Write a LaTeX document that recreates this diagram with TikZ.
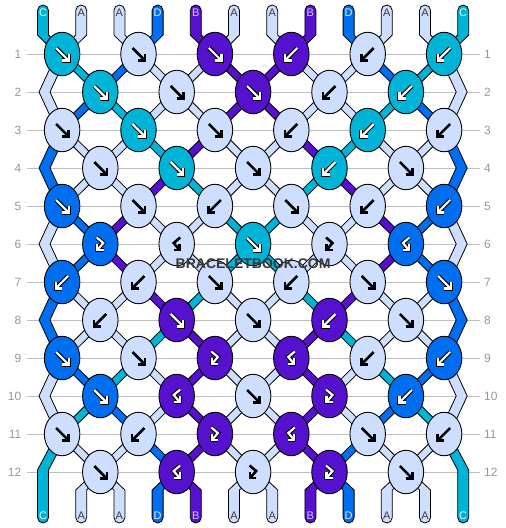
\documentclass[tikz,border=0pt]{standalone}
\usepackage{fontspec}
\setmainfont{Liberation Sans}
\usetikzlibrary{shapes.geometric,calc}
\pgfdeclarelayer{grid}
\pgfdeclarelayer{bands}
\pgfsetlayers{grid,bands,main}
\definecolor{cA}{RGB}{206,222,255}
\definecolor{cB}{RGB}{85,17,205}
\definecolor{cC}{RGB}{0,180,216}
\definecolor{cD}{RGB}{0,110,240}
\definecolor{lA}{RGB}{60,60,60}
\definecolor{lB}{RGB}{215,200,255}
\definecolor{lC}{RGB}{225,248,255}
\definecolor{lD}{RGB}{225,235,255}
\definecolor{gridgray}{RGB}{190,190,190}
\definecolor{numgray}{RGB}{150,150,150}
\definecolor{wmgray}{RGB}{55,55,55}
\def\darkA{0}\def\darkB{1}\def\darkC{1}\def\darkD{1}
\tikzset{
 bandst/.style={draw=black, line width=0.8pt, line join=miter},
 knotst/.style={ellipse, draw=black, line width=0.9pt, minimum width=35.5pt, minimum height=43.5pt, inner sep=0pt},
 gblack/.style={draw=black, line width=2.6pt, line join=miter, line cap=square},
 gout/.style={draw=black, line width=4.2pt, line join=miter, line cap=square},
 gin/.style={draw=white, line width=2.2pt, line join=miter, line cap=square},
 rowlab/.style={text=numgray, font=\fontsize{12}{12}\selectfont, inner sep=0pt},
 taillab/.style={font=\fontsize{11}{11}\selectfont, inner sep=0pt},
 rowline/.style={draw=gridgray, line width=1pt},
 wm/.style={font=\bfseries\fontsize{14}{14}\selectfont, inner sep=0pt},
}
\newcommand\gF[1]{\draw[#1] (-6,-6) -- (5.6,5.6); \draw[#1] (-0.2,6.5) -- (6.5,6.5) -- (6.5,-0.2);}
\newcommand\gB[1]{\draw[#1] (6,-6) -- (-5.6,5.6); \draw[#1] (0.2,6.5) -- (-6.5,6.5) -- (-6.5,-0.2);}
\newcommand\gP[1]{\draw[#1] (-3.5,-6.5) -- (3,-1) -- (-2.6,5.6); \draw[#1] (-3,0) -- (-3,6) -- (3.2,6);}
\newcommand\gQ[1]{\draw[#1] (3.5,-6.5) -- (-3,-1) -- (2.6,5.6); \draw[#1] (3,0) -- (3,6) -- (-3.2,6);}
\newcommand\kglyph[3]{\begin{scope}[shift={(#1)}]\ifnum#3=1 \csname g#2\endcsname{gout}\csname g#2\endcsname{gin}\else\csname g#2\endcsname{gblack}\fi\end{scope}}
\newcommand\knotrow[2]{%
 \foreach \col/\typ [count=\kc] in {#2} {%
   \pgfmathsetmacro\ky{54+38*(#1-1)}%
   \pgfmathsetmacro\xx{62.1+38.2*(1-mod(#1,2))+76.4*(\kc-1)}%
   \node[knotst, fill=c\col] (k#1-\kc) at (\xx,\ky) {};
   \kglyph{k#1-\kc}{\typ}{\csname dark\col\endcsname}
 }}
\newcommand\band[3]{\filldraw[bandst, fill=#1] ([xshift=-5.5pt]#2) -- ([xshift=-5.5pt]#3) -- ([xshift=5.5pt]#3) -- ([xshift=5.5pt]#2) -- cycle;}
\newcommand\bandthree[4]{\filldraw[bandst, fill=#1] ([xshift=-5.5pt]#2) -- ([xshift=-5.5pt]#3) -- ([xshift=-5.5pt]#4) -- ([xshift=5.5pt]#4) -- ([xshift=5.5pt]#3) -- ([xshift=5.5pt]#2) -- cycle;}
\newcommand\segrow[2]{%
 \foreach \col [count=\pp] in {#2} {%
   \ifnum\pp>1 \ifnum\pp<12
     \pgfmathtruncatemacro\ca{floor((\pp+mod(#1,2))/2)}%
     \pgfmathtruncatemacro\nr{#1+1}%
     \pgfmathtruncatemacro\cb{floor((\pp+mod(\nr,2))/2)}%
     \band{c\col}{k#1-\ca.center}{k\nr-\cb.center}%
   \fi\fi
 }}
\begin{document}
\begin{tikzpicture}[x=1pt,y=-1pt]
\useasboundingbox (0,0) rectangle (506,528);
% knots
\knotrow{1}{C/F,A/F,B/F,B/B,A/B,C/B}
\knotrow{2}{C/F,A/F,B/F,A/B,C/B}
\knotrow{3}{A/F,C/F,A/F,A/B,C/B,A/B}
\knotrow{4}{A/F,C/F,A/F,C/B,A/F}
\knotrow{5}{D/F,A/F,A/B,A/F,A/B,D/B}
\knotrow{6}{D/P,A/Q,C/F,A/P,D/Q}
\knotrow{7}{D/B,A/B,A/F,A/B,A/F,D/F}
\knotrow{8}{A/B,B/F,A/F,B/B,A/F}
\knotrow{9}{D/F,A/F,B/P,B/Q,A/B,D/B}
\knotrow{10}{D/F,B/Q,A/F,B/P,D/B}
\knotrow{11}{A/F,A/B,B/P,B/Q,A/F,A/B}
\knotrow{12}{A/F,B/Q,A/P,B/P,A/F}
% row lines and numbers
\foreach \rr in {1,...,12} {
  \pgfmathsetmacro\yy{54+38*(\rr-1)}
  \node[rowlab, anchor=east] (rl\rr) at (21.5,\yy) {\rr};
  \node[rowlab, anchor=west] (rr\rr) at (484,\yy) {\rr};
  \begin{pgfonlayer}{grid}
  \draw[rowline] (27,\yy) -- (480,\yy);
  \end{pgfonlayer}
}
\begin{pgfonlayer}{bands}
% top tails
\foreach \col [count=\pp] in {C,A,A,D,B,A,A,B,D,A,A,C} {
  \pgfmathsetmacro\xp{43+38.2*(\pp-1)}
  \pgfmathtruncatemacro\kc{floor((\pp+1)/2)}
  \coordinate (t\pp) at (\xp,10.5);
  \coordinate (tb\pp) at (\xp,35);
  \filldraw[bandst, fill=c\col] ([xshift=5.5pt]t\pp) arc[start angle=0,end angle=-180,radius=5.5] -- ([xshift=-5.5pt]tb\pp) -- ([xshift=-5.5pt]k1-\kc.center) -- ([xshift=5.5pt]k1-\kc.center) -- ([xshift=5.5pt]tb\pp) -- cycle;
}
% segments between rows
\segrow{1}{A,C,D,A,A,B,B,A,A,D,C,A}
\segrow{2}{A,D,C,A,A,B,B,A,A,C,D,A}
\segrow{3}{D,A,A,C,B,A,A,B,C,A,A,D}
\segrow{4}{D,A,A,B,C,A,A,C,B,A,A,D}
\segrow{5}{A,D,B,A,A,C,C,A,A,B,D,A}
\segrow{6}{A,D,B,A,A,C,C,A,A,B,D,A}
\segrow{7}{D,A,A,B,C,A,A,C,B,A,A,D}
\segrow{8}{D,A,A,C,B,A,A,B,C,A,A,D}
\segrow{9}{A,D,C,A,B,A,A,B,A,C,D,A}
\segrow{10}{A,C,D,A,B,A,A,B,A,D,C,A}
\segrow{11}{C,A,A,D,B,A,A,B,D,A,A,C}
% edge chevrons
\foreach \rr/\col in {2/A,4/D,6/A,8/D,10/A} {
  \pgfmathtruncatemacro\ra{\rr-1}
  \pgfmathtruncatemacro\rb{\rr+1}
  \pgfmathsetmacro\yy{54+38*(\rr-1)}
  \coordinate (vL\rr) at (44.5,\yy);
  \coordinate (vR\rr) at (461.7,\yy);
  \bandthree{c\col}{k\ra-1.center}{vL\rr}{k\rb-1.center}
  \bandthree{c\col}{k\ra-6.center}{vR\rr}{k\rb-6.center}
}
% bottom tails
\foreach \col [count=\pp] in {C,A,A,D,B,A,A,B,D,A,A,C} {
  \pgfmathsetmacro\xp{43+38.2*(\pp-1)}
  \coordinate (bt\pp) at (\xp,517.5);
  \ifnum\pp=1 \coordinate (bb\pp) at (\xp,470); \def\kk{k11-1}%
  \else\ifnum\pp=12 \coordinate (bb\pp) at (\xp,470); \def\kk{k11-6}%
  \else \pgfmathtruncatemacro\kc{floor(\pp/2)}\coordinate (bb\pp) at (\xp,490); \edef\kk{k12-\kc}%
  \fi\fi
  \filldraw[bandst, fill=c\col] ([xshift=-5.5pt]\kk.center) -- ([xshift=-5.5pt]bb\pp) -- ([xshift=-5.5pt]bt\pp) arc[start angle=180,end angle=0,radius=5.5] -- ([xshift=5.5pt]bb\pp) -- ([xshift=5.5pt]\kk.center) -- cycle;
}
\end{pgfonlayer}
% tail letters
\foreach \col [count=\pp] in {C,A,A,D,B,A,A,B,D,A,A,C} {
  \pgfmathsetmacro\xp{43+38.2*(\pp-1)}
  \node[taillab, text=l\col] (tl\pp) at (\xp,12.5) {\col};
  \node[taillab, text=l\col] (bl\pp) at (\xp,516) {\col};
}
% watermark
\node[wm, text=wmgray] (wmark) at (253.1,264) {BRACELETBOOK.COM};
\end{tikzpicture}
\end{document}
